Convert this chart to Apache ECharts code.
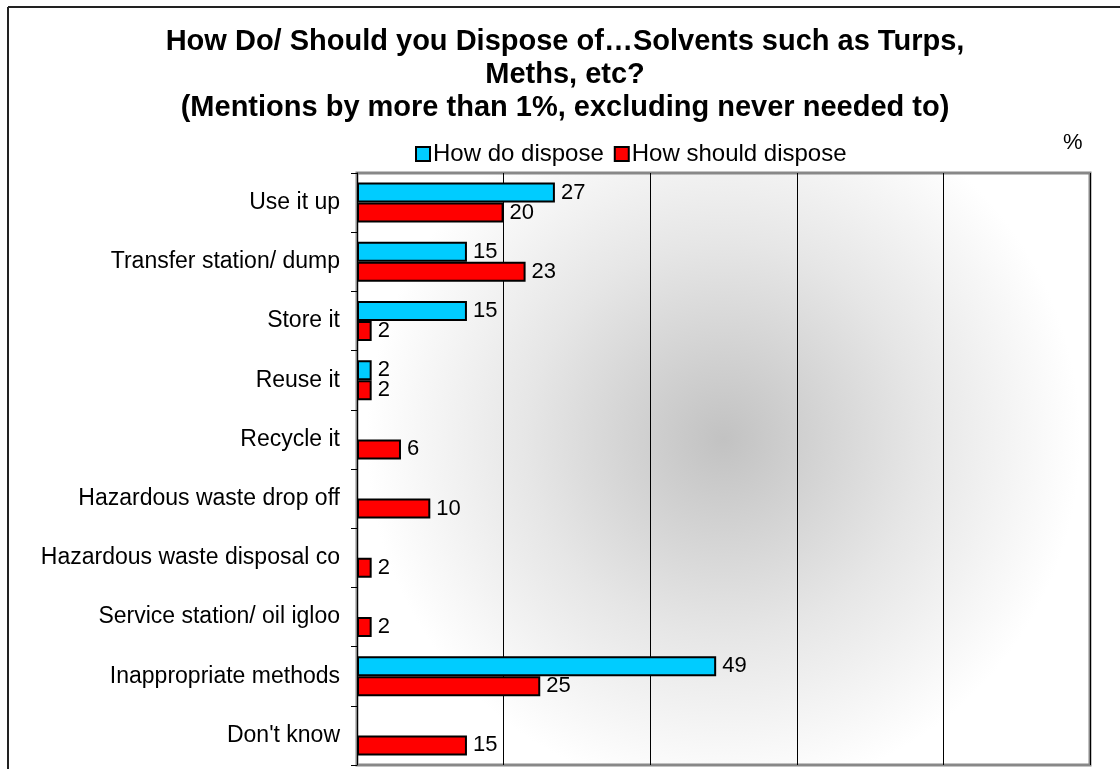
<!DOCTYPE html>
<html>
<head>
    <meta charset="utf-8">
    <title>How Do/ Should you Dispose of Solvents</title>
    <script src="https://cdn.jsdelivr.net/npm/echarts@6/dist/echarts.min.js"></script>
    <style>
        body, html { margin: 0; padding: 0; width: 100%; height: 100%; overflow: hidden; background: #fff; }
        #main { width: 1120px; height: 769px; }
    </style>
</head>
<body>
    <div id="main"></div>
    <script type="text/javascript">
        // Categories, top to bottom
        var categories = [
            'Use it up', 'Transfer station/ dump', 'Store it', 'Reuse it', 'Recycle it',
            'Hazardous waste drop off', 'Hazardous waste disposal co',
            'Service station/ oil igloo', 'Inappropriate methods', "Don't know"
        ];
        // % values (null = not mentioned)
        var howDo = [27, 15, 15, 2, null, null, null, null, 49, null];
        var howShould = [20, 23, 2, 2, 6, 10, 2, 2, 25, 15];

        var font = 'Liberation Sans, Arial, sans-serif';

        var myChart = echarts.init(document.getElementById('main'));

        function barSeries(name, data, colour) {
            return {
                name: name,
                type: 'bar',
                data: data,
                barWidth: 20,
                barGap: '0%',
                itemStyle: { color: colour, borderColor: '#000', borderWidth: 2 },
                label: {
                    show: true, position: 'right', distance: 6,
                    color: '#000', fontSize: 22, fontFamily: font
                }
            };
        }

        myChart.setOption({
            animation: false,
            title: {
                text: 'How Do/ Should you Dispose of\u2026Solvents such as Turps,\nMeths, etc?\n(Mentions by more than 1%, excluding never needed to)',
                left: 560, textAlign: 'center', top: 20,
                textStyle: { fontFamily: font, fontSize: 29, fontWeight: 'bold', color: '#000', lineHeight: 33 }
            },
            legend: {
                left: 410, top: 137,
                itemWidth: 14, itemHeight: 14, itemGap: 10,
                icon: 'rect',
                textStyle: { fontFamily: font, fontSize: 24, color: '#000', padding: [0, 0, 0, -2] },
                itemStyle: { borderColor: '#000', borderWidth: 2 }
            },
            graphic: [
                { type: 'line', shape: { x1: 8, y1: 7, x2: 1120, y2: 7 }, style: { stroke: '#222', lineWidth: 2 } },
                { type: 'line', shape: { x1: 8, y1: 7, x2: 8, y2: 769 }, style: { stroke: '#222', lineWidth: 2 } },
                { type: 'text', left: 1063, top: 132, style: { text: '%', fontFamily: font, fontSize: 22, fill: '#000' } }
            ],
            grid: {
                left: 357, right: 30, top: 173, bottom: 4,
                show: true,
                borderColor: '#888', borderWidth: 3,
                backgroundColor: {
                    type: 'radial', x: 0.5, y: 0.45, r: 0.6,
                    colorStops: [
                        { offset: 0, color: '#c2c2c2' },
                        { offset: 0.55, color: '#e6e6e6' },
                        { offset: 1, color: '#ffffff' }
                    ]
                }
            },
            xAxis: {
                type: 'value', min: 0, max: 100, interval: 20,
                axisLabel: { show: false },
                axisLine: { show: false },
                axisTick: { show: false },
                splitLine: { show: true, lineStyle: { color: '#000', width: 1 } }
            },
            yAxis: {
                type: 'category', data: categories, inverse: true,
                axisLine: { show: true, lineStyle: { color: '#000', width: 1 } },
                axisTick: { show: true, length: 6, lineStyle: { color: '#000' } },
                axisLabel: { color: '#000', fontSize: 23, fontFamily: font, margin: 17 }
            },
            series: [
                barSeries('How do dispose', howDo, '#00CCFF'),
                barSeries('How should dispose', howShould, '#FF0000')
            ]
        });
    </script>
</body>
</html>
